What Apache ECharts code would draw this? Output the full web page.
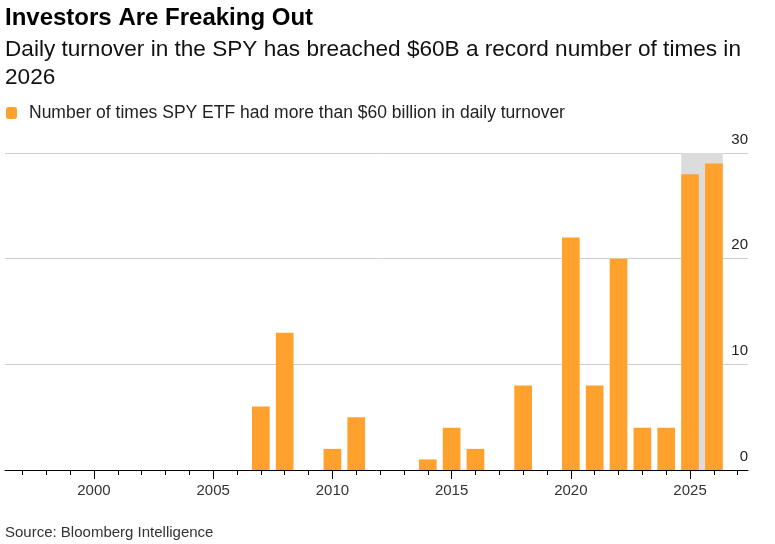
<!DOCTYPE html>
<html>
<head>
<meta charset="utf-8">
<script src="https://cdn.jsdelivr.net/npm/echarts@6/dist/echarts.min.js"></script>
<style>
html,body{margin:0;padding:0;background:#fff;}
#chart{width:775px;height:544px;}
</style>
</head>
<body>
<div id="chart"></div>
<script>
var years = [2007, 2008, 2009, 2010, 2011, 2012, 2013, 2014, 2015, 2016, 2017, 2018, 2019, 2020, 2021, 2022, 2023, 2024, 2025, 2026];
var counts = [6, 13, 0, 2, 5, 0, 0, 1, 4, 2, 0, 8, 0, 22, 8, 20, 4, 4, 28, 29];
var minorTickYears = [1997, 1998, 1999, 2000, 2001, 2002, 2003, 2004, 2005, 2006, 2007, 2008, 2009, 2010, 2011, 2012, 2013, 2014, 2015, 2016, 2017, 2018, 2019, 2020, 2021, 2022, 2023, 2024, 2025, 2026, 2027];
var labelYears = [2000, 2005, 2010, 2015, 2020, 2025];
var yTicks = [0, 10, 20, 30];
var highlightRange = [2024.63, 2026.37];

var titleText = 'Investors Are Freaking Out';
var subtitleText = 'Daily turnover in the SPY has breached $60B a record number of times in\n2026';
var seriesName = 'Number of times SPY ETF had more than $60 billion in daily turnover';
var sourceText = 'Source: Bloomberg Intelligence';

var FONT = '"Liberation Sans", Arial, sans-serif';
var ORANGE = '#ffa22d';

var chart = echarts.init(document.getElementById('chart'));
var barData = years.map(function (y, i) { return [y, counts[i]]; });

var xMin = 1996.27, xMax = 2027.43;

chart.setOption({
  backgroundColor: '#ffffff',
  animation: false,
  textStyle: { fontFamily: FONT },
  title: [
    { text: titleText, left: 5, top: 4, padding: 0,
      textStyle: { fontFamily: FONT, fontSize: 24, fontWeight: 'bold', color: '#000', lineHeight: 28 } },
    { text: subtitleText, left: 5, top: 36, padding: 0,
      textStyle: { fontFamily: FONT, fontSize: 22.6, fontWeight: 'normal', color: '#111', lineHeight: 28 } },
    { text: sourceText, left: 5, top: 524, padding: 0,
      textStyle: { fontFamily: FONT, fontSize: 15, fontWeight: 'normal', color: '#333', lineHeight: 18 } }
  ],
  legend: {
    left: 6, top: 104, padding: 0,
    icon: 'roundRect',
    itemWidth: 11, itemHeight: 12, itemGap: 10,
    textStyle: { fontFamily: FONT, fontSize: 17.5, color: '#222', padding: [0, 0, 0, 7] },
    data: [seriesName]
  },
  grid: { left: 5, right: 27, top: 153, bottom: 74 },
  xAxis: [
    {
      type: 'value', position: 'bottom', min: xMin, max: xMax,
      axisLine: { show: true, lineStyle: { color: '#000', width: 1 } },
      axisTick: { show: true, length: 5, lineStyle: { color: '#000', width: 1 }, customValues: minorTickYears },
      axisLabel: { show: true, customValues: labelYears, margin: 13, fontSize: 15, color: '#333', fontFamily: FONT,
        formatter: function (v) { return String(Math.round(v)); } },
      splitLine: { show: false }
    },
    {
      type: 'value', position: 'bottom', min: xMin, max: xMax,
      axisLine: { show: false },
      axisTick: { show: true, length: 9, lineStyle: { color: '#000', width: 1 }, customValues: labelYears },
      axisLabel: { show: false },
      splitLine: { show: false }
    }
  ],
  yAxis: {
    type: 'value', position: 'right', min: 0, max: 30, interval: 10,
    axisLine: { show: false },
    axisTick: { show: false },
    splitLine: { show: true, lineStyle: { color: '#cfcfcf', width: 1 } },
    axisLabel: { inside: true, margin: 0, fontSize: 15, color: '#222', fontFamily: FONT,
      verticalAlign: 'bottom', padding: [0, 0, 6, 0], customValues: yTicks }
  },
  series: [
    {
      name: seriesName, type: 'bar', xAxisIndex: 0,
      data: barData,
      barWidth: 17.7,
      itemStyle: { color: ORANGE },
      markArea: {
        silent: true,
        itemStyle: { color: '#dcdcdc' },
        data: [[{ xAxis: highlightRange[0] }, { xAxis: highlightRange[1] }]]
      }
    }
  ]
});
</script>
</body>
</html>
